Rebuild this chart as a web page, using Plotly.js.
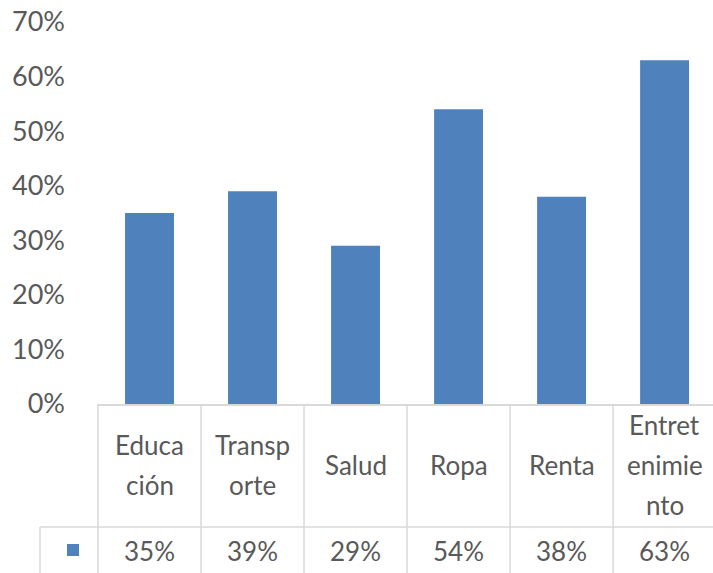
<!DOCTYPE html>
<html><head><meta charset="utf-8">
<script src="https://cdn.plot.ly/plotly-3.0.1.min.js"></script>
<style>html,body{margin:0;padding:0;background:#fff}</style>
</head><body><div id="chart" style="width:713px;height:573px"></div>
<script>
const categories = ["Educación","Transporte","Salud","Ropa","Renta","Entretenimiento"];
const categoryLines = [["Educa","ción"],["Transp","orte"],["Salud"],["Ropa"],["Renta"],["Entret","enimie","nto"]];
const values = [0.35, 0.39, 0.29, 0.54, 0.38, 0.63];
const tableLabels = ["35%","39%","29%","54%","38%","63%"];
const yTicks = [0,0.1,0.2,0.3,0.4,0.5,0.6,0.7];

const barColor = '#4f81bd', txt = '#595959', grid = '#d9d9d9';
const font = 'Lato, "Open Sans", sans-serif';
const W = 713, H = 573, mL = 98, mT = 22, mB = 169, mR = 0;
const plotH = H - mT - mB, plotW = W - mL - mR;
const xMax = 5.47, xMin = -0.5;
const px = v => (v - xMin) / (xMax - xMin);
const yp = pix => (H - mB - pix) / plotH;     // pixel row -> paper y
const xp = pix => (pix - mL) / plotW;         // pixel col -> paper x
const rowTop = 0, rowMid = yp(527), rowBot = yp(580), legLeft = xp(40);

const shapes = [];
for (let i = 0; i < categories.length; i++) {
  shapes.push({type:'line', xref:'paper', yref:'paper', x0:px(i-0.5), x1:px(i-0.5), y0:rowTop, y1:rowBot, line:{color:grid,width:1.5}});
}
shapes.push({type:'line', xref:'paper', yref:'paper', x0:legLeft, x1:1, y0:rowMid, y1:rowMid, line:{color:grid,width:1.5}});
shapes.push({type:'line', xref:'paper', yref:'paper', x0:legLeft, x1:legLeft, y0:rowMid, y1:rowBot, line:{color:grid,width:1.5}});
// legend key
shapes.push({type:'rect', xref:'paper', yref:'paper', x0:xp(67), x1:xp(79), y0:yp(556), y1:yp(544), fillcolor:barColor, line:{width:0}});

const annotations = [];
const blockCenter = 465, lineGap = 40;
categories.forEach((c,i) => {
  const lines = categoryLines[i];
  lines.forEach((t,j) => {
    const cy = blockCenter + (j - (lines.length-1)/2) * lineGap;
    annotations.push({x:i, xref:'x', y:yp(cy), yref:'paper', text:t, showarrow:false, font:{family:font,size:26,color:txt}, yanchor:'middle'});
  });
  annotations.push({x:i, xref:'x', y:yp(551), yref:'paper', text:tableLabels[i], showarrow:false, font:{family:font,size:26,color:txt}, yanchor:'middle'});
});

Plotly.newPlot('chart', [{
  type:'bar', x:categories.map((c,i)=>i), y:values, marker:{color:barColor}, width:0.475, hoverinfo:'none'
}], {
  width:W, height:H,
  margin:{l:mL, r:mR, t:mT, b:mB},
  paper_bgcolor:'#fff', plot_bgcolor:'#fff',
  showlegend:false,
  xaxis:{range:[xMin,xMax], showticklabels:false, showgrid:false, zeroline:false, showline:true, linecolor:grid, linewidth:1.5, ticks:''},
  yaxis:{range:[0,0.7], tickvals:yTicks, tickformat:'.0%', showgrid:false, zeroline:false, showline:false, ticks:'', ticklabelstandoff:32, tickfont:{family:font,size:27,color:txt}},
  shapes, annotations
}, {staticPlot:true});
</script></body></html>
